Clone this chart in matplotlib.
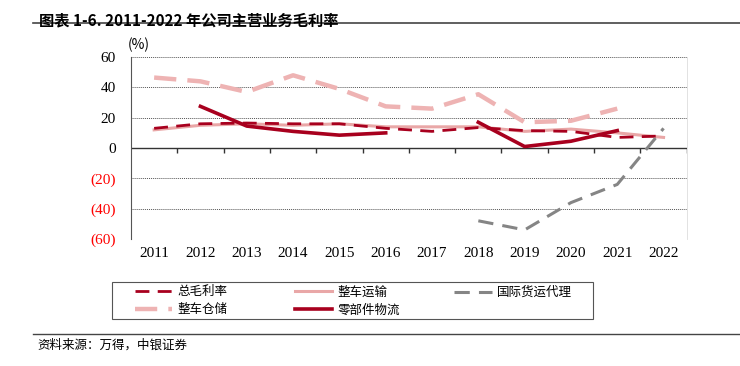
import matplotlib.pyplot as plt
import numpy as np
from matplotlib.lines import Line2D
from matplotlib.patches import Rectangle

plt.rcParams['font.family'] = ['Noto Sans CJK SC', 'DejaVu Sans']

years = ['2011', '2012', '2013', '2014', '2015', '2016',
         '2017', '2018', '2019', '2020', '2021', '2022']
nan = np.nan
total_margin = [13, 16, 16.5, 16, 16, 13, 11, 13.5, 11.5, 11, 7, 8]            # 总毛利率
vehicle_transport = [12, 15, 16, 15, 16, 14, 14, 14, 11, 12.5, 10, 7]          # 整车运输
intl_forwarding = [nan, nan, nan, nan, nan, nan, nan, -48, -54, -36, -24, 13]  # 国际货运代理
vehicle_storage = [46.5, 44, 37, 48, 39, 27.5, 26, 35.5, 17, 18, 26, nan]      # 整车仓储
parts_logistics = [nan, 27.5, 14.5, 11, 8.5, 10, nan, 17, 1, 4.5, 11.5, nan]   # 零部件物流

yticks = [60, 40, 20, 0, -20, -40, -60]

dark_red = '#A8001E'
light_pink = '#E9A7A7'
pink = '#EEB3B3'
grey = '#858585'
serif = ['Liberation Serif', 'DejaVu Serif']

fig = plt.figure(figsize=(7.4, 3.66), dpi=100)
ax = fig.add_axes([0.177, 0.347, 0.751, 0.497])
x = np.arange(len(years))

ax.plot(x, vehicle_storage, color=pink, lw=3.2, dashes=(5, 2.5), label='整车仓储')
ax.plot(x, vehicle_transport, color=light_pink, lw=2.2, label='整车运输')
ax.plot(x, total_margin, color=dark_red, lw=2.0, dashes=(5, 3), label='总毛利率')
ax.plot(x, parts_logistics, color=dark_red, lw=2.6, label='零部件物流')
ax.plot(x, intl_forwarding, color=grey, lw=2.2, dashes=(5, 3), label='国际货运代理')

ax.set_xlim(-0.5, len(years) - 0.5)
ax.set_ylim(-60, 60)
ax.set_yticks(yticks)
ax.set_yticklabels([str(v) if v >= 0 else f'({-v})' for v in yticks],
                   family=serif, fontsize=11)
for lab, v in zip(ax.get_yticklabels(), yticks):
    lab.set_color('red' if v < 0 else 'black')
ax.set_xticks(x)
ax.set_xticklabels(years, family=serif, fontsize=11)
ax.tick_params(axis='x', length=0, pad=6)
ax.tick_params(axis='y', length=0, pad=11)

for v in yticks:
    if v != 0:
        ax.axhline(v, color='#555555', lw=0.7, ls=(0, (1, 1)), zorder=0)
ax.axhline(0, color='#333333', lw=1.0, zorder=1)
ax.vlines(np.arange(0.5, len(years)), 0, -3.5, color='#333333', lw=1.0)

for s in ['top', 'bottom']:
    ax.spines[s].set_visible(False)
ax.spines['left'].set_color('#555555')
ax.spines['right'].set_color('#dddddd')
ax.spines['right'].set_linewidth(0.6)

fig.text(0.172, 0.865, '(%)', family=['Noto Sans CJK SC'], fontsize=10)

# legend: one column each, box drawn separately
legend_cols = [
    ([Line2D([], [], color=dark_red, lw=2.0, dashes=(5, 3)),
      Line2D([], [], color=pink, lw=3.2, dashes=(5, 2.5))],
     ['总毛利率', '整车仓储'], (0.182, 0.178)),
    ([Line2D([], [], color=light_pink, lw=2.2),
      Line2D([], [], color=dark_red, lw=2.6)],
     ['整车运输', '零部件物流'], (0.398, 0.178)),
    ([Line2D([], [], color=grey, lw=2.2, dashes=(5, 3))],
     ['国际货运代理'], (0.614, 0.201)),
]
for hs, labs, anchor in legend_cols:
    fig.legend(hs, labs, loc='center left', bbox_to_anchor=anchor,
               fontsize=9, frameon=False, handlelength=3.0, borderpad=0,
               handletextpad=0.4, borderaxespad=0, labelspacing=0.4)
fig.add_artist(Rectangle((0.151, 0.128), 0.650, 0.101, transform=fig.transFigure,
                         fill=False, edgecolor='#555555', lw=0.8))

# title, footer and rules
fig.text(0.053, 0.965, '图表 1-6. 2011-2022 年公司主营业务毛利率', fontsize=11,
         fontweight='bold', va='top')
fig.add_artist(Line2D([0.045, 1.0], [0.937, 0.937], color='#444444', lw=1.2))
fig.add_artist(Line2D([0.045, 1.0], [0.087, 0.087], color='#444444', lw=1.0))
fig.text(0.05, 0.057, '资料来源：万得，中银证券', fontsize=9, va='center')

fig.savefig('out.png', dpi=100)
